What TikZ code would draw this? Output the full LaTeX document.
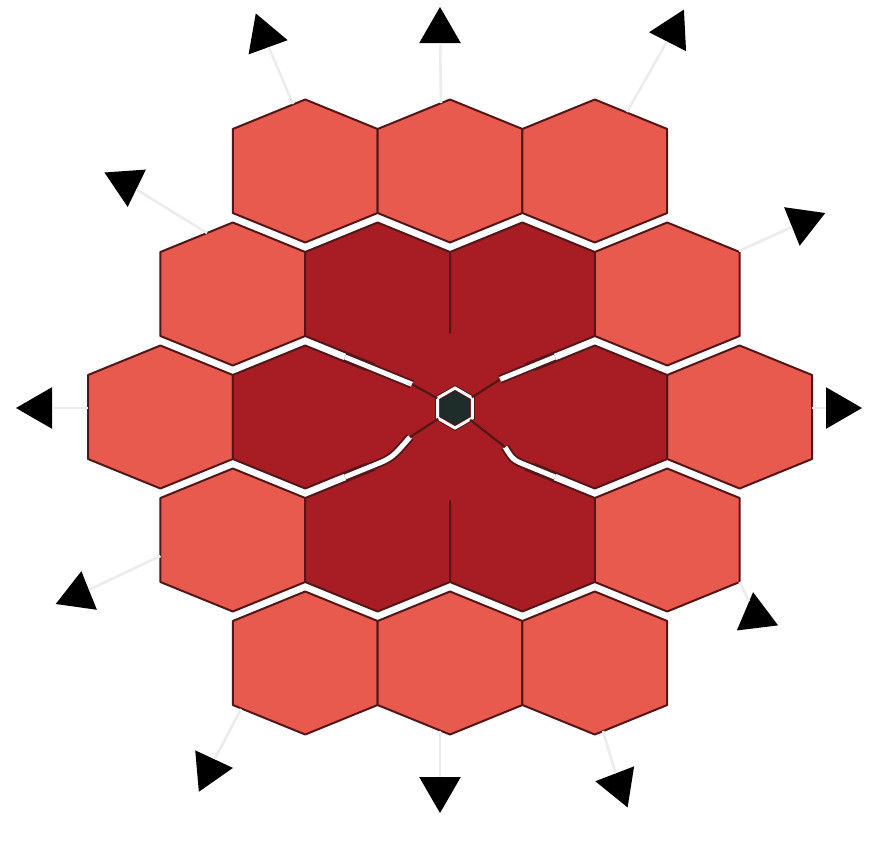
\documentclass[tikz,border=0pt]{standalone}
\usepackage{tikz}
\usetikzlibrary{shapes.geometric}

\definecolor{cellred}{RGB}{232,90,78}
\definecolor{corered}{RGB}{168,29,36}
\definecolor{rim}{RGB}{84,22,22}
\definecolor{hubfill}{RGB}{30,44,42}

% one flattened, pointy-topped cell (pixel units, y down)
\tikzset{
    pics/cell/.style={code={
        \path[pic actions] (-72.4,-42) -- (0,-71.5) -- (72.4,-42) -- (72.4,42)
            -- (0,71.5) -- (-72.4,42) -- cycle;
    }}
}

\begin{document}
\begin{tikzpicture}[
    x=1pt, y=-1pt,
    cellLight/.style={fill=cellred, draw=rim, line width=2pt, line join=round},
    cellDark/.style={fill=corered, draw=rim, line width=2pt, line join=round},
    seam/.style={draw=rim, line width=1.9pt, double=white, double distance=5pt},
    crack/.style={draw=rim, line width=2.2pt},
    hub/.style={regular polygon, regular polygon sides=6, rotate=30, minimum size=40pt, inner sep=0pt,
        fill=hubfill, draw=rim, line width=1pt, double=white, double distance=3pt},
    arrowTip/.style={regular polygon, regular polygon sides=3, minimum size=48pt, inner sep=0pt, fill=black},
    ray/.style={draw=gray!15, line width=2.6pt}
]

\useasboundingbox (0,0) rectangle (875,846);
\fill[white] (0,0) rectangle (875,846);

% Outer ring (light cells)
\foreach \cx/\cy in {305.2/171, 450/171, 594.8/171, 232.8/294, 667.2/294, 160.4/417, 739.6/417,
                     232.8/540, 667.2/540, 305.2/663, 450/663, 594.8/663}
    \pic[cellLight] at (\cx,\cy) {cell};

% Inner ring (dark cells)
\foreach \cx/\cy in {377.6/294, 522.4/294, 305.2/417, 594.8/417, 377.6/540, 522.4/540}
    \pic[cellDark] at (\cx,\cy) {cell};

% Centre cell shared out among the dark ring
\pic[fill=corered, scale=1.17] at (450,417) {cell};

% Hub
\node[hub] (hub) at (455,408) {};

% Seams running in towards the hub
\coordinate (ulEnd) at (412,384.3);
\coordinate (urEnd) at (500,379.4);
\coordinate (llEnd) at (410,437);
\coordinate (lrEnd) at (505,447);

\draw[seam] (345,357) -- (ulEnd);
\draw[seam] (555,357) -- (urEnd);
\draw[seam] (345,477) -- (372,466) .. controls (392,458) .. (llEnd);
\draw[seam] (555,477) -- (528,466) .. controls (513,460) .. (lrEnd);

\draw[crack] (ulEnd) -- (hub);
\draw[crack] (urEnd) -- (hub);
\draw[crack] (llEnd) -- (hub);
\draw[crack] (lrEnd) -- (hub);

% Arrow tips
\node[arrowTip, rotate=-100] (tTL) at (264,36) {};
\node[arrowTip] (tT) at (440,31) {};
\node[arrowTip, rotate=93] (tTR) at (673,31) {};
\node[arrowTip, rotate=-176] (tLU) at (126,183) {};
\node[arrowTip, rotate=172] (tRU) at (803,222) {};
\node[arrowTip, rotate=90] (tL) at (40,408) {};
\node[arrowTip, rotate=-90] (tR) at (838,408) {};
\node[arrowTip, rotate=-8] (tLL) at (78,595) {};
\node[arrowTip, rotate=7] (tRL) at (756,616) {};
\node[arrowTip, rotate=-85] (tBL) at (209,770) {};
\node[arrowTip, rotate=180] (tB) at (440,789) {};
\node[arrowTip, rotate=81] (tBR) at (619,785) {};

% Ray start points on the outer cells
\coordinate (sTL) at (293,104);
\coordinate (sT) at (441,103);
\coordinate (sTR) at (627,112);
\coordinate (sLU) at (207,233);
\coordinate (sRU) at (739,251);
\coordinate (sL) at (88,408);
\coordinate (sR) at (811.6,408);
\coordinate (sLL) at (160.4,556);
\coordinate (sRL) at (739.6,582);
\coordinate (sBL) at (241,709);
\coordinate (sB) at (440,730.5);
\coordinate (sBR) at (603,731);

% Rays
\foreach \r in {TL, T, TR, LU, RU, L, R, LL, RL, BL, B, BR}
    \draw[ray] (s\r) -- (t\r);

\end{tikzpicture}
\end{document}
